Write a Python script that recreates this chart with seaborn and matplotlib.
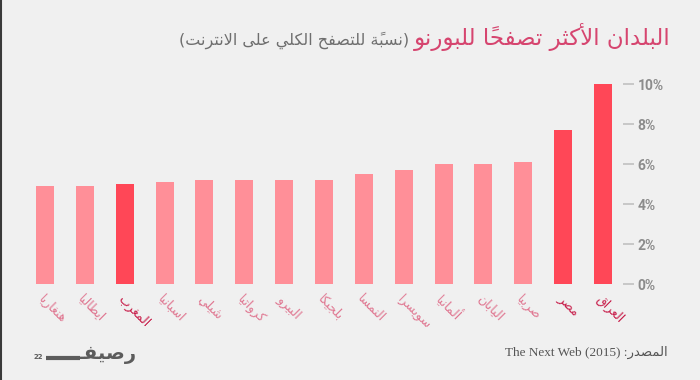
import matplotlib
matplotlib.use("Agg")
import matplotlib.pyplot as plt
import seaborn as sns
import pandas as pd
from matplotlib.lines import Line2D

# ---------------- data ----------------
countries = ["هنغاريا", "ايطاليا", "المغرب", "اسبانيا", "شيلي", "كرواتيا", "البيرو",
             "بلجيكا", "النمسا", "سويسرا", "ألمانيا", "اليابان", "صربيا", "مصر", "العراق"]
values = [4.9, 4.9, 5.0, 5.1, 5.2, 5.2, 5.2, 5.2, 5.5, 5.7, 6.0, 6.0, 6.1, 7.7, 10.0]
highlight = [False, False, True, False, False, False, False, False,
             False, False, False, False, False, True, True]
yticks = [0, 2, 4, 6, 8, 10]
ytick_labels = ["0%", "2%", "4%", "6%", "8%", "10%"]
title_text = "البلدان الأكثر تصفحاً للبورنو"
subtitle_text = "(نسبةً للتصفح الكلي على الانترنت)"
source_ar = "المصدر"
source_en = "The Next Web (2015) :"
logo_ar = "رصيفـ"
logo_num = "22"

# ---------------- simple Arabic shaping ----------------
_BASE = {
    'ء': (0xFE80, 1), 'آ': (0xFE81, 2), 'أ': (0xFE83, 2), 'ؤ': (0xFE85, 2),
    'إ': (0xFE87, 2), 'ئ': (0xFE89, 4), 'ا': (0xFE8D, 2), 'ب': (0xFE8F, 4),
    'ة': (0xFE93, 2), 'ت': (0xFE95, 4), 'ث': (0xFE99, 4), 'ج': (0xFE9D, 4),
    'ح': (0xFEA1, 4), 'خ': (0xFEA5, 4), 'د': (0xFEA9, 2), 'ذ': (0xFEAB, 2),
    'ر': (0xFEAD, 2), 'ز': (0xFEAF, 2), 'س': (0xFEB1, 4), 'ش': (0xFEB5, 4),
    'ص': (0xFEB9, 4), 'ض': (0xFEBD, 4), 'ط': (0xFEC1, 4), 'ظ': (0xFEC5, 4),
    'ع': (0xFEC9, 4), 'غ': (0xFECD, 4), 'ف': (0xFED1, 4), 'ق': (0xFED5, 4),
    'ك': (0xFED9, 4), 'ل': (0xFEDD, 4), 'م': (0xFEE1, 4), 'ن': (0xFEE5, 4),
    'ه': (0xFEE9, 4), 'و': (0xFEED, 2), 'ى': (0xFEEF, 2), 'ي': (0xFEF1, 4),
}
_LAMALEF = {'آ': 0xFEF5, 'أ': 0xFEF7, 'إ': 0xFEF9, 'ا': 0xFEFB}
_TATWEEL = 'ـ'


def _is_mark(ch):
    return 0x064B <= ord(ch) <= 0x0652 or ord(ch) == 0x0670


def _shape_clusters(s):
    cl = []
    for ch in s:
        if _is_mark(ch) and cl:
            cl[-1][1].append(ch)
        else:
            cl.append([ch, []])
    merged = []
    i = 0
    while i < len(cl):
        b, m = cl[i]
        if b == 'ل' and not m and i + 1 < len(cl) and cl[i + 1][0] in _LAMALEF:
            merged.append([('LA', cl[i + 1][0]), m + cl[i + 1][1]])
            i += 2
        else:
            merged.append([b, m])
            i += 1

    def jt(c):
        b = c[0]
        if isinstance(b, tuple):
            return 'R'
        if b == _TATWEEL:
            return 'C'
        if b in _BASE:
            n = _BASE[b][1]
            return 'D' if n == 4 else ('R' if n == 2 else 'U')
        return 'U'

    out = []
    for k, c in enumerate(merged):
        t = jt(c)
        pt = jt(merged[k - 1]) if k > 0 else 'U'
        nt = jt(merged[k + 1]) if k + 1 < len(merged) else 'U'
        jp = t in 'DRC' and pt in 'DC'
        jn = t in 'DC' and nt in 'DRC'
        b = c[0]
        if isinstance(b, tuple):
            g = chr(_LAMALEF[b[1]] + (1 if jp else 0))
        elif b in _BASE and t in 'DR':
            base = _BASE[b][0]
            if t == 'D':
                off = 3 if (jp and jn) else (1 if jp else (2 if jn else 0))
            else:
                off = 1 if jp else 0
            g = chr(base + off)
        else:
            g = b
        out.append(g + ''.join(c[1]))
    return out


def rtl(s):
    vis = ''.join(reversed(_shape_clusters(s)))
    return vis.translate(str.maketrans({'(': ')', ')': '('}))


# ---------------- figure ----------------
BG = "#f0f0f0"
sns.set_theme(style="white")
plt.rcParams['font.family'] = ['DejaVu Sans']

fig = plt.figure(figsize=(7, 3.8), dpi=100, facecolor=BG)
ax = fig.add_axes([25 / 700, 1 - 284 / 380, (623 - 25) / 700, 202 / 380])
ax.set_facecolor(BG)

light = "#ff8f98"
strong = "#ff4757"
palette = [strong if h else light for h in highlight]
df = pd.DataFrame({"country": countries, "value": values})
sns.barplot(data=df, x="country", y="value", hue="country", palette=palette,
            legend=False, width=0.45, ax=ax, saturation=1, edgecolor="none")

ax.set_xlim(-0.5, len(countries) - 0.5)
ax.set_ylim(0, 10.1)
for sp in ax.spines.values():
    sp.set_visible(False)
ax.set_xlabel("")
ax.set_ylabel("")

# y axis on right
ax.yaxis.tick_right()
ax.set_yticks(yticks)
ax.set_yticklabels(ytick_labels, family=['Roboto', 'DejaVu Sans'],
                   fontweight='bold', fontsize=10, color="#8c8c8c")
ax.tick_params(axis='y', which='both', length=8, width=1.1, color="#bdbdbd",
               pad=2.5, direction='out', right=True, left=False)

# x labels
ax.set_xticks(range(len(countries)))
ax.set_xticklabels([rtl(c) for c in countries], rotation=-45, ha='left',
                   rotation_mode='anchor', fontsize=9)
ax.tick_params(axis='x', length=0, pad=6)
for lab, h in zip(ax.get_xticklabels(), highlight):
    lab.set_color("#c8204c" if h else "#e07892")

# title & subtitle
t = fig.text(671 / 700, 1 - 45 / 380, rtl(title_text), ha='right', va='baseline',
             fontsize=16.5, color="#d6456f")
fig.canvas.draw()
r = fig.canvas.get_renderer()
bb = t.get_window_extent(r)
fig.text((bb.x0 - 5) / 700, 1 - 45 / 380, rtl(subtitle_text), ha='right',
         va='baseline', fontsize=11.5, color="#6e6e6e")

# source
fig.text(668 / 700, 1 - 356 / 380, source_en + rtl(source_ar), ha='right',
         va='baseline', fontsize=9.5, color="#555555",
         family=['Liberation Serif', 'DejaVu Sans'])

# logo
logo = fig.text(136 / 700, 1 - 359 / 380, rtl(logo_ar), ha='right', va='baseline',
                fontsize=14, fontweight='bold', color="#5c5c5c")
fig.canvas.draw()
lb = logo.get_window_extent(fig.canvas.get_renderer())
fig.add_artist(Line2D([46 / 700, (lb.x0 + 3) / 700], [1 - 357.5 / 380, 1 - 357.5 / 380],
                      transform=fig.transFigure, color="#5c5c5c", lw=3,
                      solid_capstyle='butt'))
fig.text(33 / 700, 1 - 359 / 380, logo_num, ha='left', va='baseline',
         fontsize=5, fontweight='bold', color="#5c5c5c")

# left border
fig.add_artist(Line2D([0.0015, 0.0015], [0, 1], transform=fig.transFigure,
                      color="#3a3a3a", lw=1.5))

fig.savefig("out.png", dpi=100, facecolor=BG)
